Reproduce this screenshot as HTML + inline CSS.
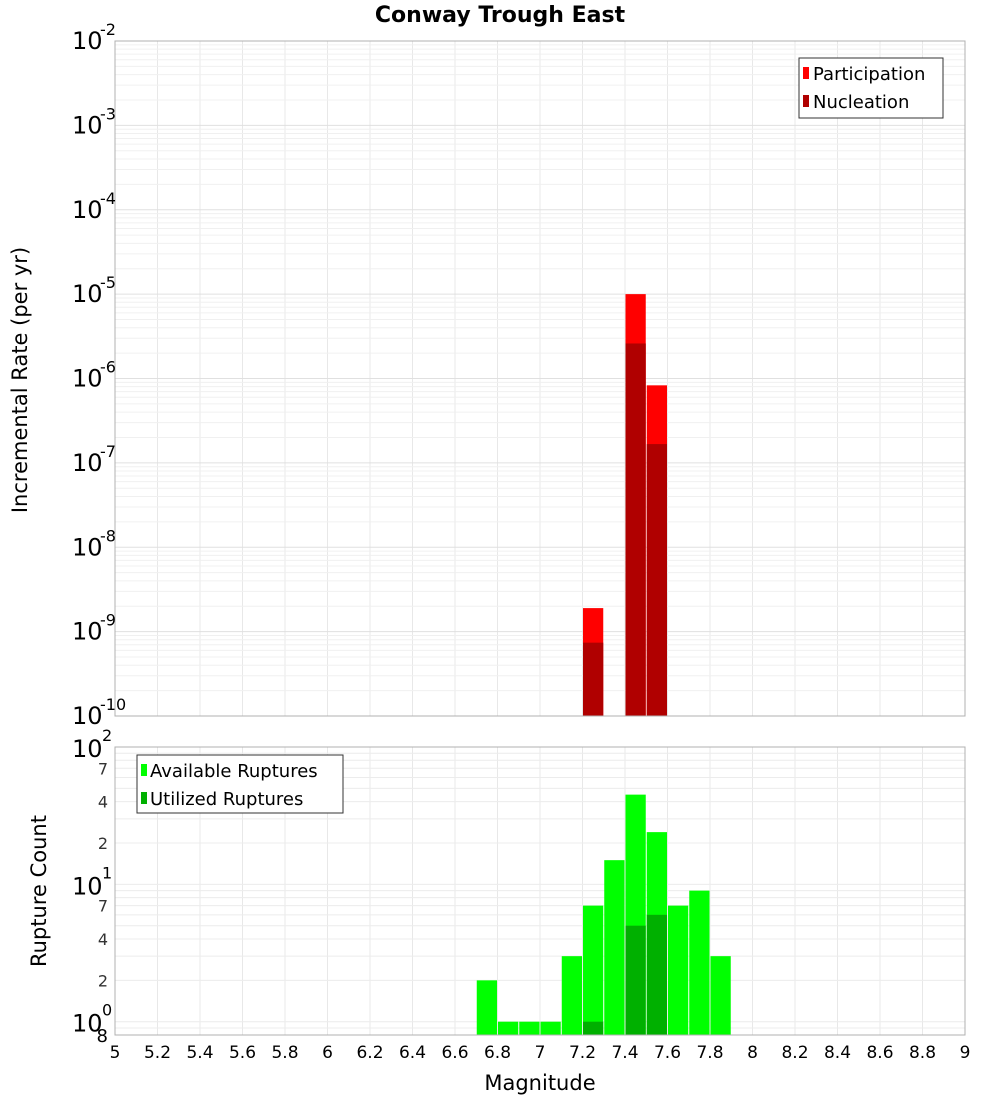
<!DOCTYPE html>
<html><head><meta charset="utf-8"><style>
body{margin:0;background:#fff;}
svg text{font-family:"DejaVu Sans","Liberation Sans",sans-serif;}
</style></head><body>
<svg id="c" width="1000" height="1100" xmlns="http://www.w3.org/2000/svg"></svg>
<script>
const rateMags=[7.25,7.45,7.55];
const participation=[1.9e-9,1.0e-5,8.3e-7];
const nucleation=[7.4e-10,2.6e-6,1.67e-7];
const countMags=[6.75,6.85,6.95,7.05,7.15,7.25,7.35,7.45,7.55,7.65,7.75,7.85];
const available=[2,1,1,1,3,7,15,45,24,7,9,3];
const utilMags=[7.25,7.45,7.55];
const utilized=[1,5,6];
const xTicks=[5,5.2,5.4,5.6,5.8,6,6.2,6.4,6.6,6.8,7,7.2,7.4,7.6,7.8,8,8.2,8.4,8.6,8.8,9];
const topExps=[-10,-9,-8,-7,-6,-5,-4,-3,-2];
const botMinor=[2,4,7,20,40,70];

const svg=document.getElementById('c');const NS='http://www.w3.org/2000/svg';
function el(t,a,p){const e=document.createElementNS(NS,t);for(const k in a)e.setAttribute(k,a[k]);(p||svg).appendChild(e);return e;}
const X0=115,X1=965;
const x=v=>X0+(v-5)/4*(X1-X0);
const T0=41,T1=716;
const yT=v=>T1-(Math.log10(v)+10)/8*(T1-T0);
const B0=747,B1=1035,bmin=0.8,bmax=100;
const yB=v=>B1-(Math.log10(v)-Math.log10(bmin))/(Math.log10(bmax)-Math.log10(bmin))*(B1-B0);

// grids
const g=el('g',{});
for(let v=5;v<=9.001;v+=0.2){el('line',{x1:x(v),x2:x(v),y1:T0,y2:T1,stroke:'#e8e8e8'},g);el('line',{x1:x(v),x2:x(v),y1:B0,y2:B1,stroke:'#e8e8e8'},g);}
for(let e=-10;e<-2;e++)for(let m=1;m<10;m++){const y=yT(m*Math.pow(10,e));el('line',{x1:X0,x2:X1,y1:y,y2:y,stroke:m==1?'#e0e0e0':'#f0f0f0'},g);}
for(let e=-1;e<2;e++)for(let m=1;m<10;m++){const v=m*Math.pow(10,e);if(v<bmin)continue;const y=yB(v);el('line',{x1:X0,x2:X1,y1:y,y2:y,stroke:'#ececec'},g);}

// top bars
const bw=(x(5.1)-x(5))-1;
rateMags.forEach((m,i)=>{const r=el('rect',{x:x(m)-bw/2,y:yT(participation[i]),width:bw,height:T1-yT(participation[i]),fill:'#ff0000'});});
rateMags.forEach((m,i)=>{const r=el('rect',{x:x(m)-bw/2,y:yT(nucleation[i]),width:bw,height:T1-yT(nucleation[i]),fill:'#b00000'});});
countMags.forEach((m,i)=>{const r=el('rect',{x:x(m)-bw/2,y:yB(available[i]),width:bw,height:B1-yB(available[i]),fill:'#00ff00'});});
utilMags.forEach((m,i)=>{const r=el('rect',{x:x(m)-bw/2,y:yB(utilized[i]),width:bw,height:B1-yB(utilized[i]),fill:'#00b000'});});

el('rect',{x:X0,y:T0,width:X1-X0,height:T1-T0,fill:'none',stroke:'#b0b0b0',});
el('rect',{x:X0,y:B0,width:X1-X0,height:B1-B0,fill:'none',stroke:'#b0b0b0',});

// top y labels
topExps.forEach(e=>{const y=yT(Math.pow(10,e));const t=el('text',{x:72,y:y+8,'font-size':24});t.textContent='10';const s=el('text',{x:100,y:y-6,'font-size':16});s.textContent=String(e);});
// bottom y labels
[[1,'0'],[10,'1'],[100,'2']].forEach(([v,ex])=>{const y=yB(v);const t=el('text',{x:72,y:y+10,'font-size':24});t.textContent='10';const s=el('text',{x:102,y:y-6,'font-size':16});s.textContent=ex;});
botMinor.forEach(v=>{const t=el('text',{x:108,y:yB(v)+6,'font-size':16,'text-anchor':'end',fill:'#333'});t.textContent=String(v).charAt(0);});
{const t=el('text',{x:108,y:1042,'font-size':18,'text-anchor':'end'});t.textContent='8';}
// x labels
xTicks.forEach(v=>{const t=el('text',{x:x(v),y:1058,'font-size':17,'text-anchor':'middle'});t.textContent=String(v);});

el('text',{x:500,y:22,'font-size':22,'font-weight':'bold','text-anchor':'middle',}).textContent='Conway Trough East';
el('text',{x:540,y:1090,'font-size':21,'text-anchor':'middle',}).textContent='Magnitude';
el('text',{x:0,y:0,'font-size':21,'text-anchor':'middle',transform:'translate(27,380) rotate(-90)',}).textContent='Incremental Rate (per yr)';
el('text',{x:0,y:0,'font-size':21,'text-anchor':'middle',transform:'translate(46,891) rotate(-90)',}).textContent='Rupture Count';

// legends
const l1=el('g',{});
el('rect',{x:799,y:58,width:144,height:60,fill:'#fff',stroke:'#333'},l1);
el('rect',{x:803,y:67,width:6,height:12,fill:'#ff0000'},l1);
el('text',{x:813,y:80,'font-size':18},l1).textContent='Participation';
el('rect',{x:803,y:95,width:6,height:12,fill:'#b00000'},l1);
el('text',{x:813,y:108,'font-size':18},l1).textContent='Nucleation';
const l2=el('g',{});
el('rect',{x:137,y:755,width:206,height:58,fill:'#fff',stroke:'#333'},l2);
el('rect',{x:141,y:764,width:6,height:12,fill:'#00ff00'},l2);
el('text',{x:150,y:777,'font-size':18},l2).textContent='Available Ruptures';
el('rect',{x:141,y:792,width:6,height:12,fill:'#00b000'},l2);
el('text',{x:150,y:805,'font-size':18},l2).textContent='Utilized Ruptures';
</script>
</body></html>
